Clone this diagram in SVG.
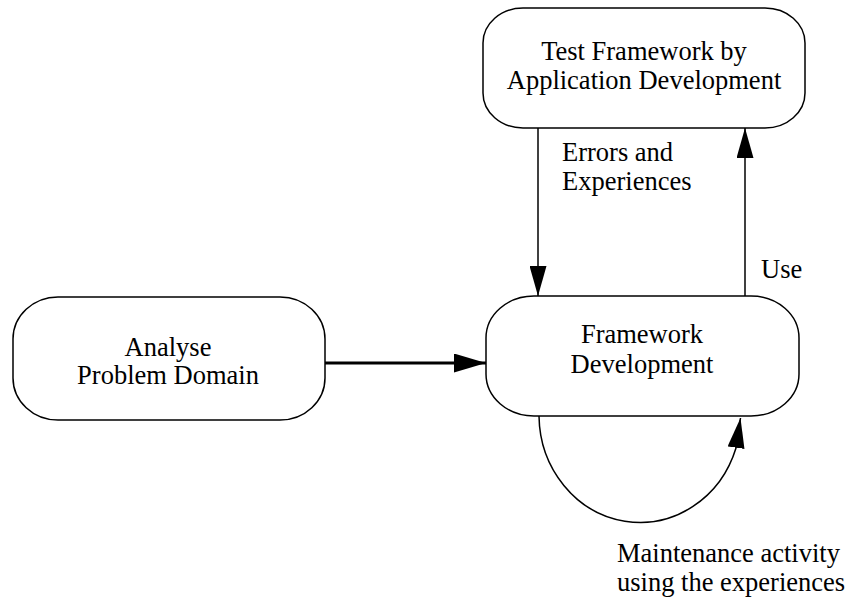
<svg xmlns="http://www.w3.org/2000/svg" width="848" height="600" viewBox="0 0 848 600">
  <style>
    .node { fill: #ffffff; stroke: #000000; stroke-width: 1.5; }
    .lbl { font-family: "Liberation Serif", "Times New Roman", serif; font-size: 26.5px; fill: #000000; }
    .mid { text-anchor: middle; }
    .conn { fill: none; stroke: #000000; stroke-width: 1.5; }
    .thick { stroke-width: 3; }
  </style>
  <defs>
    <marker id="arrow" markerUnits="userSpaceOnUse" markerWidth="30" markerHeight="17" refX="30" refY="8.5" orient="auto">
      <path d="M0,0 L30,8.5 L0,17 z" fill="#000000"/>
    </marker>
    <marker id="arrowBig" markerUnits="userSpaceOnUse" markerWidth="32" markerHeight="19" refX="32" refY="9.5" orient="auto">
      <path d="M0,0 L32,9.5 L0,19 z" fill="#000000"/>
    </marker>
  </defs>
  <rect width="848" height="600" fill="#ffffff"/>

  <g id="connectors">
    <line class="conn thick" x1="325" y1="363" x2="486" y2="363" marker-end="url(#arrowBig)"/>
    <line class="conn" x1="538" y1="128" x2="538" y2="296" marker-end="url(#arrow)"/>
    <line class="conn" x1="745" y1="296" x2="745" y2="128" marker-end="url(#arrow)"/>
    <path class="conn" d="M 539 416 A 101 108 0 0 0 736 448 L 740.5 418" marker-end="url(#arrow)"/>
    <text class="lbl" x="562" y="161">Errors and</text>
    <text class="lbl" x="562" y="190">Experiences</text>
    <text class="lbl" x="761" y="278">Use</text>
    <text class="lbl" x="617" y="562">Maintenance activity</text>
    <text class="lbl" x="617" y="591">using the experiences</text>
  </g>

  <g id="test-framework">
    <rect class="node" x="483" y="8" width="322" height="120" rx="40" ry="35"/>
    <text class="lbl mid" x="644" y="60">Test Framework by</text>
    <text class="lbl mid" x="644" y="89">Application Development</text>
  </g>

  <g id="framework-development">
    <rect class="node" x="486" y="296" width="313" height="120" rx="48" ry="42"/>
    <text class="lbl mid" x="642" y="343">Framework</text>
    <text class="lbl mid" x="642" y="373">Development</text>
  </g>

  <g id="analyse-problem-domain">
    <rect class="node" x="13" y="297" width="312" height="123" rx="45" ry="42"/>
    <text class="lbl mid" x="168" y="356">Analyse</text>
    <text class="lbl mid" x="168" y="384">Problem Domain</text>
  </g>
</svg>
